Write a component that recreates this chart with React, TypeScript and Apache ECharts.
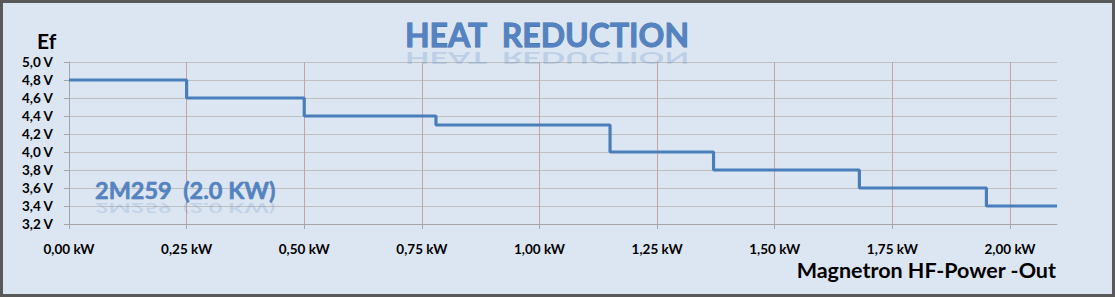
import React, { useEffect, useRef } from "react";
import * as echarts from "echarts";

const stepStartKW = [0, 0.25, 0.5, 0.78, 1.15, 1.37, 1.68, 1.95, 2.1];
const filamentV = [4.8, 4.6, 4.4, 4.3, 4.0, 3.8, 3.6, 3.4, 3.4];
const xTickValues = [0, 0.25, 0.5, 0.75, 1.0, 1.25, 1.5, 1.75, 2.0];
const xMin = 0;
const xMax = 2.1;
const xStep = 0.25;
const yMin = 3.2;
const yMax = 5.0;
const yStep = 0.2;
const titleText = "HEAT  REDUCTION";
const modelText = "2M259  (2.0 KW)";
const yName = "Ef";
const xName = "Magnetron HF-Power -Out";

const FONT = "Lato, 'Open Sans', sans-serif";

export default function App() {
  const ref = useRef<HTMLDivElement>(null);
  useEffect(() => {
    document.body.style.margin = "0";
    if (!ref.current) return;
    const chart = echarts.init(ref.current, undefined, { renderer: "svg" });
    const data = stepStartKW.map((x, i) => [x, filamentV[i]]);
    chart.setOption({
      animation: false,
      backgroundColor: "#dce6f2",
      grid: { left: 69, right: 58, top: 62, bottom: 73, containLabel: false },
      xAxis: {
        type: "value",
        min: xMin,
        max: xMax,
        interval: xStep,
        axisLine: { show: true, lineStyle: { color: "#a6a6a6", width: 1 } },
        axisTick: {
          show: true,
          length: 5,
          customValues: xTickValues,
          lineStyle: { color: "#a6a6a6" },
        },
        axisLabel: {
          margin: 18,
          color: "#000",
          fontFamily: FONT,
          fontWeight: "bold",
          fontSize: 13.5,
          customValues: xTickValues,
          formatter: (v: number) => v.toFixed(2).replace(".", ",") + " kW",
        },
        splitLine: { show: false },
      },
      yAxis: {
        type: "value",
        min: yMin,
        max: yMax,
        interval: yStep,
        axisLine: { show: true, lineStyle: { color: "#a6a6a6", width: 1 } },
        axisTick: { show: true, length: 5, lineStyle: { color: "#a6a6a6" } },
        axisLabel: {
          margin: 16,
          color: "#000",
          fontFamily: FONT,
          fontWeight: "bold",
          fontSize: 13.5,
          formatter: (v: number) => v.toFixed(1).replace(".", ",") + " V",
        },
        splitLine: { show: true, lineStyle: { color: "#bfbfbf", width: 1 } },
      },
      series: [
        {
          type: "line",
          data: [],
          symbol: "none",
          silent: true,
          z: 1,
          markLine: {
            silent: true,
            symbol: "none",
            label: { show: false },
            lineStyle: { color: "#c9a3a3", width: 1, type: "solid" },
            data: xTickValues.slice(1).map((v) => ({ xAxis: v })),
          },
        },
        {
          type: "line",
          step: "end",
          data,
          symbol: "none",
          lineStyle: { color: "#4a7ebb", width: 3.2 },
          z: 5,
        },
      ],
      graphic: [
        {
          type: "rect",
          shape: { x: 1.5, y: 1.5, width: 1112, height: 294 },
          style: { fill: "none", stroke: "#595959", lineWidth: 3 },
          silent: true,
          z: 100,
        },
        {
          type: "text",
          x: 547,
          y: 50,
          style: {
            text: titleText,
            fill: "rgba(79,129,189,0.22)",
            fontFamily: FONT,
            fontWeight: "bold",
            fontSize: 32,
            align: "center",
            verticalAlign: "bottom",
          },
          scaleY: -0.55,
          z: 10,
        },
        {
          type: "text",
          x: 547,
          y: 50,
          style: {
            text: titleText,
            fill: "#5383c2",
            stroke: "#3e6aa6",
            lineWidth: 0.8,
            fontFamily: FONT,
            fontWeight: "bold",
            fontSize: 32,
            align: "center",
            verticalAlign: "bottom",
          },
          z: 11,
        },
        {
          type: "text",
          x: 95,
          y: 202,
          style: {
            text: modelText,
            fill: "rgba(79,129,189,0.2)",
            fontFamily: FONT,
            fontWeight: "bold",
            fontSize: 23.5,
            align: "left",
            verticalAlign: "bottom",
          },
          scaleY: -0.55,
          z: 10,
        },
        {
          type: "text",
          x: 95,
          y: 202,
          style: {
            text: modelText,
            fill: "#5383c2",
            stroke: "#3e6aa6",
            lineWidth: 0.5,
            fontFamily: FONT,
            fontWeight: "bold",
            fontSize: 23.5,
            align: "left",
            verticalAlign: "bottom",
          },
          z: 11,
        },
        {
          type: "text",
          x: 37,
          y: 30,
          style: {
            text: yName,
            fill: "#000",
            fontFamily: FONT,
            fontWeight: "bold",
            fontSize: 21,
          },
          z: 11,
        },
        {
          type: "text",
          x: 1056,
          y: 281,
          style: {
            text: xName,
            fill: "#000",
            fontFamily: FONT,
            fontWeight: "bold",
            fontSize: 21.5,
            align: "right",
            verticalAlign: "bottom",
          },
          z: 11,
        },
      ],
    });
    return () => chart.dispose();
  }, []);
  return <div ref={ref} style={{ width: 1115, height: 297 }} />;
}
